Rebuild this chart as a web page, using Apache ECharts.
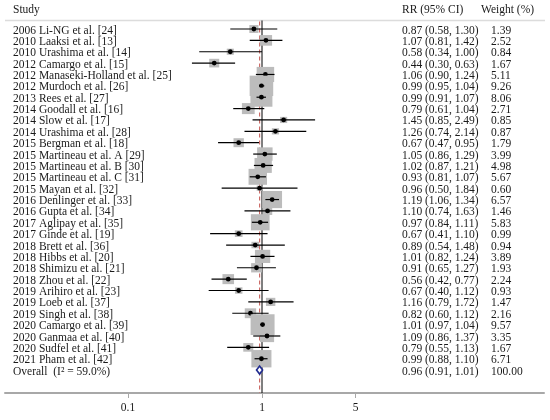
<!DOCTYPE html>
<html>
<head>
<meta charset="utf-8">
<script src="https://cdn.jsdelivr.net/npm/echarts@6/dist/echarts.min.js"></script>
<style>
html, body { margin: 0; padding: 0; background: #fff; }
#chart { width: 550px; height: 420px; }
</style>
</head>
<body>
<div id="chart"></div>
<script>
// forest plot data
var studyNames = [
  '2006 Li-NG et al. [24]', '2010 Laaksi et al. [13]', '2010 Urashima et al. [14]',
  '2012 Camargo et al. [15]', '2012 Manaseki-Holland et al. [25]', '2012 Murdoch et al. [26]',
  '2013 Rees et al. [27]', '2014 Goodall et al. [16]', '2014 Slow et al. [17]',
  '2014 Urashima et al. [28]', '2015 Bergman et al. [18]', '2015 Martineau et al. A [29]',
  '2015 Martineau et al. B [30]', '2015 Martineau et al. C [31]', '2015 Mayan et al. [32]',
  '2016 Denlinger et al. [33]', '2016 Gupta et al. [34]', '2017 Aglipay et al. [35]',
  '2017 Ginde et al. [19]', '2018 Brett et al. [36]', '2018 Hibbs et al. [20]',
  '2018 Shimizu et al. [21]', '2018 Zhou et al. [22]', '2019 Arihiro et al. [23]',
  '2019 Loeb et al. [37]', '2019 Singh et al. [38]', '2020 Camargo et al. [39]',
  '2020 Ganmaa et al. [40]', '2020 Sudfel et al. [41]', '2021 Pham et al. [42]'
];
var rrValues = [0.87, 1.07, 0.58, 0.44, 1.06, 0.99, 0.99, 0.79, 1.45, 1.26, 0.67, 1.05, 1.02, 0.93, 0.96,
                1.19, 1.10, 0.97, 0.67, 0.89, 1.01, 0.91, 0.56, 0.67, 1.16, 0.82, 1.01, 1.09, 0.79, 0.99];
var ciLower = [0.58, 0.81, 0.34, 0.30, 0.90, 0.95, 0.91, 0.61, 0.85, 0.74, 0.47, 0.86, 0.87, 0.81, 0.50,
               1.06, 0.74, 0.84, 0.41, 0.54, 0.82, 0.65, 0.42, 0.40, 0.79, 0.60, 0.97, 0.86, 0.55, 0.88];
var ciUpper = [1.30, 1.42, 1.00, 0.63, 1.24, 1.04, 1.07, 1.04, 2.49, 2.14, 0.95, 1.29, 1.21, 1.07, 1.84,
               1.34, 1.63, 1.11, 1.10, 1.48, 1.24, 1.27, 0.77, 1.12, 1.72, 1.12, 1.04, 1.37, 1.13, 1.10];
var weights = [1.39, 2.52, 0.84, 1.67, 5.11, 9.26, 8.06, 2.71, 0.85, 0.87, 1.79, 3.99, 4.98, 5.67, 0.60,
               6.57, 1.46, 5.83, 0.99, 0.94, 3.89, 1.93, 2.24, 0.93, 1.47, 2.16, 9.57, 3.35, 1.67, 6.71];

var overallLabel = 'Overall  (I\u00b2 = 59.0%)';
var overallRR = 0.96;
var overallLower = 0.91;
var overallUpper = 1.01;
var overallWeight = 100.00;

var headers = ['Study', 'RR (95% CI)', 'Weight (%)'];
var xTickValues = [0.1, 1, 5];

var FONT = '"Liberation Serif", "Times New Roman", serif';
var TXT = '#1a1a1a';

// layout: row 0 sits at y=29px, rows 11.37px apart, axis at y=393px
var rowTop = 29, rowStep = 11.37, axisY = 393;
var yMin = -rowTop / rowStep;
var yMax = yMin + axisY / rowStep;
var yHeaderLine = (20.5 - rowTop) / rowStep;
var overallRow = studyNames.length;

function ciText(r, l, u) {
  return r.toFixed(2) + ' (' + l.toFixed(2) + ', ' + u.toFixed(2) + ')';
}

var studyData = [];
for (var i = 0; i < studyNames.length; i++) {
  studyData.push([Math.log10(rrValues[i]), i, Math.log10(ciLower[i]), Math.log10(ciUpper[i]), weights[i]]);
}

var chart = echarts.init(document.getElementById('chart'));

var option = {
  animation: false,
  backgroundColor: '#fff',
  grid: { left: 5, right: 6, top: 0, bottom: 420 - axisY, containLabel: false, outerBoundsMode: 'none' },
  xAxis: {
    type: 'value',
    position: 'bottom',
    min: (5 - 262) / 134,
    max: (544 - 262) / 134,
    axisLine: { show: true, onZero: false, lineStyle: { color: '#a8a8a8', width: 2 } },
    axisTick: {
      show: true, length: 5,
      customValues: xTickValues.map(function (v) { return Math.log10(v); }),
      lineStyle: { color: '#a8a8a8', width: 1 }
    },
    axisLabel: {
      customValues: xTickValues.map(function (v) { return Math.log10(v); }),
      formatter: function (v) { return String(+Math.pow(10, v).toPrecision(3)); },
      fontFamily: FONT, fontSize: 11.5, color: TXT, margin: 9
    },
    splitLine: { show: false }
  },
  yAxis: { type: 'value', inverse: true, min: yMin, max: yMax, show: false },
  graphic: [
    { type: 'line', shape: { x1: 5, y1: 20.5, x2: 545, y2: 20.5 }, style: { stroke: '#dcdcdc', lineWidth: 1.5 } },
    { type: 'text', x: 13, y: 10, style: { text: headers[0], font: '11.5px ' + FONT, fill: TXT, verticalAlign: 'middle' } },
    { type: 'text', x: 402, y: 10, style: { text: headers[1], font: '11.5px ' + FONT, fill: TXT, verticalAlign: 'middle' } },
    { type: 'text', x: 481, y: 10, style: { text: headers[2], font: '11.5px ' + FONT, fill: TXT, verticalAlign: 'middle' } }
  ],
  series: [
    {
      // reference lines: null effect (1) and pooled estimate
      type: 'custom', z: 1, silent: true, clip: false,
      data: [[Math.log10(1), 0], [Math.log10(overallRR), 1]],
      renderItem: function (params, api) {
        var top = api.coord([api.value(0), yHeaderLine]);
        var bot = api.coord([api.value(0), yMax]);
        if (api.value(1) === 0) {
          return { type: 'line', shape: { x1: top[0], y1: top[1], x2: bot[0], y2: bot[1] },
                   style: { stroke: '#000', lineWidth: 1 } };
        }
        return { type: 'line', shape: { x1: top[0], y1: top[1] + 1, x2: bot[0], y2: bot[1] },
                 style: { stroke: '#c9605c', lineWidth: 1.1, lineDash: [4, 3] } };
      }
    },
    {
      type: 'custom', z: 2, silent: true, clip: false,
      data: studyData,
      renderItem: function (params, api) {
        var c = api.coord([api.value(0), api.value(1)]);
        var lo = api.coord([api.value(2), api.value(1)]);
        var hi = api.coord([api.value(3), api.value(1)]);
        var s = Math.sqrt(api.value(4));
        var w = 7.75 * s, h = 6.7 * s;
        return {
          type: 'group',
          children: [
            { type: 'rect', shape: { x: c[0] - w / 2, y: c[1] - h / 2, width: w, height: h }, style: { fill: '#bcbcbc' } },
            { type: 'line', shape: { x1: lo[0], y1: c[1], x2: hi[0], y2: c[1] }, style: { stroke: '#000', lineWidth: 1.2 } },
            { type: 'circle', shape: { cx: c[0], cy: c[1], r: 2.4 }, style: { fill: '#000' } }
          ]
        };
      }
    },
    {
      type: 'custom', z: 3, silent: true, clip: false,
      data: [[Math.log10(overallRR), overallRow, Math.log10(overallLower), Math.log10(overallUpper)]],
      renderItem: function (params, api) {
        var c = api.coord([api.value(0), api.value(1)]);
        var lo = api.coord([api.value(2), api.value(1)]);
        var hi = api.coord([api.value(3), api.value(1)]);
        var h = 8;
        return {
          type: 'polygon',
          shape: { points: [[lo[0], c[1]], [c[0], c[1] - h / 2], [hi[0], c[1]], [c[0], c[1] + h / 2]] },
          style: { fill: '#fff', stroke: '#1f2a8f', lineWidth: 1.6 }
        };
      }
    },
    {
      // text columns
      type: 'custom', z: 4, silent: true, clip: false,
      data: studyNames.map(function (n, i) { return [0, i]; }).concat([[0, overallRow]]),
      renderItem: function (params, api) {
        var i = params.dataIndex;
        var y = api.coord([0, api.value(1)])[1] + 1.5;
        var name, ci, wt;
        if (i < studyNames.length) {
          name = studyNames[i];
          ci = ciText(rrValues[i], ciLower[i], ciUpper[i]);
          wt = weights[i].toFixed(2);
        } else {
          name = overallLabel;
          ci = ciText(overallRR, overallLower, overallUpper);
          wt = overallWeight.toFixed(2);
        }
        var st = function (t) { return { text: t, font: '11.5px ' + FONT, fill: TXT, verticalAlign: 'middle' }; };
        return {
          type: 'group',
          children: [
            { type: 'text', x: 13, y: y, style: st(name) },
            { type: 'text', x: 402, y: y, style: st(ci) },
            { type: 'text', x: 491, y: y, style: st(wt) }
          ]
        };
      }
    }
  ]
};

chart.setOption(option);
</script>
</body>
</html>
